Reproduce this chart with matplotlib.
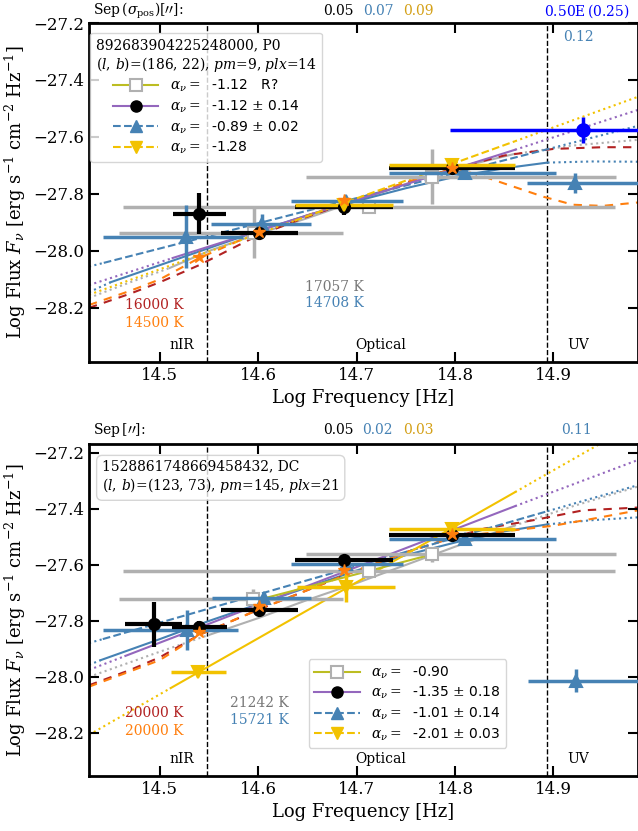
import matplotlib.pyplot as plt
from matplotlib.lines import Line2D

plt.rcParams['font.family'] = 'DejaVu Serif'
plt.rcParams['mathtext.fontset'] = 'dejavuserif'

# colours
C_GRAY = '#b0b0b0'
C_SB = '#4682b4'
C_GOLD = '#f2c200'
C_ORG = '#ff7f0e'
C_RED = '#b22222'
C_PUR = '#9467bd'
C_OLV = '#bcbd22'
C_BLUE = '#0000ff'

# band boundaries (log Hz)
vlines_x = [14.548, 14.894]

# ---------------- TOP PANEL DATA ----------------
top_gray_x = [14.596, 14.713, 14.777]
top_gray_y = [-27.937, -27.846, -27.739]
top_gray_xlo = [0.138, 0.250, 0.128]
top_gray_xhi = [0.090, 0.250, 0.187]
top_gray_yerr = [0.088, 0.0, 0.095]

top_sb_x = [14.527, 14.604, 14.689, 14.810, 14.922]
top_sb_y = [-27.950, -27.905, -27.825, -27.727, -27.762]
top_sb_xlo = [0.085, 0.052, 0.056, 0.077, 0.049]
top_sb_xhi = [0.058, 0.050, 0.058, 0.093, 0.080]
top_sb_yerr = [0.110, 0.035, 0.015, 0.015, 0.035]

top_blue_x = [14.930]
top_blue_y = [-27.575]
top_blue_xerr = [0.135]
top_blue_yerr = [0.045]

top_gold_x = [14.687, 14.797]
top_gold_y = [-27.839, -27.698]
top_gold_xerr = [0.050, 0.064]
top_gold_yerr = [0.010, 0.010]

top_blk_x = [14.540, 14.601, 14.687, 14.797]
top_blk_y = [-27.870, -27.937, -27.846, -27.710]
top_blk_xerr = [0.027, 0.039, 0.050, 0.064]
top_blk_yerr = [0.072, 0.015, 0.028, 0.015]

top_org_x = [14.540, 14.601, 14.687, 14.797]
top_org_y = [-28.022, -27.933, -27.822, -27.708]

# fit lines: [left edge, start of fit range, end of fit range, right edge]
top_pur_fx = [14.428, 14.513, 14.861, 14.986]
top_pur_fy = [-28.120, -28.025, -27.645, -27.505]
top_gold_fx = [14.428, 14.637, 14.861, 14.986]
top_gold_fy = [-28.154, -27.894, -27.615, -27.459]
top_sb_fx = [14.428, 14.443, 14.894, 14.986]
top_sb_fy = [-28.055, -28.042, -27.643, -27.561]

# blackbody curves (solid inside range, dotted outside)
top_graybb_x = [14.428, 14.47, 14.51, 14.55, 14.60, 14.65, 14.70, 14.75, 14.80, 14.86, 14.92, 14.986]
top_graybb_y = [-28.165, -28.11, -28.06, -28.00, -27.94, -27.885, -27.825, -27.765, -27.71, -27.66, -27.63, -27.61]
top_graybb_rng = (14.51, 14.86)
top_sbbb_x = [14.428, 14.45, 14.50, 14.55, 14.60, 14.65, 14.70, 14.75, 14.80, 14.85, 14.894, 14.94, 14.986]
top_sbbb_y = [-28.145, -28.11, -28.05, -27.99, -27.93, -27.875, -27.825, -27.78, -27.74, -27.71, -27.69, -27.686, -27.687]
top_sbbb_rng = (14.45, 14.894)

# model spectra
top_red_x = [14.428, 14.47, 14.50, 14.54, 14.60, 14.65, 14.70, 14.75, 14.80, 14.85, 14.90, 14.95, 14.986]
top_red_y = [-28.20, -28.15, -28.11, -28.05, -27.945, -27.88, -27.82, -27.76, -27.71, -27.665, -27.642, -27.636, -27.636]
top_org_mx = [14.428, 14.47, 14.50, 14.54, 14.60, 14.65, 14.70, 14.75, 14.80, 14.83, 14.86, 14.89, 14.92, 14.95, 14.986]
top_org_my = [-28.19, -28.14, -28.10, -28.025, -27.935, -27.875, -27.818, -27.76, -27.71, -27.74, -27.775, -27.81, -27.838, -27.842, -27.83]

# ---------------- BOTTOM PANEL DATA ----------------
bot_gray_x = [14.595, 14.713, 14.777]
bot_gray_y = [-27.721, -27.621, -27.562]
bot_gray_xlo = [0.137, 0.250, 0.128]
bot_gray_xhi = [0.091, 0.250, 0.187]
bot_gray_yerr = [0.035, 0.010, 0.027]

bot_sb_x = [14.528, 14.606, 14.689, 14.810, 14.923]
bot_sb_y = [-27.833, -27.718, -27.598, -27.506, -28.013]
bot_sb_xlo = [0.086, 0.053, 0.056, 0.077, 0.049]
bot_sb_xhi = [0.051, 0.048, 0.058, 0.093, 0.080]
bot_sb_yerr = [0.072, 0.020, 0.015, 0.010, 0.040]

bot_gold_x = [14.539, 14.689, 14.797]
bot_gold_y = [-27.982, -27.680, -27.470]
bot_gold_xerr = [0.028, 0.050, 0.064]
bot_gold_yerr = [0.010, 0.053, 0.010]

bot_blk_x = [14.494, 14.540, 14.601, 14.687, 14.797]
bot_blk_y = [-27.812, -27.822, -27.760, -27.584, -27.494]
bot_blk_xerr = [0.029, 0.028, 0.039, 0.050, 0.064]
bot_blk_yerr = [0.080, 0.020, 0.010, 0.020, 0.010]

bot_org_x = [14.540, 14.601, 14.687, 14.797]
bot_org_y = [-27.840, -27.745, -27.617, -27.490]

bot_pur_fx = [14.428, 14.465, 14.861, 14.986]
bot_pur_fy = [-27.975, -27.925, -27.390, -27.225]
bot_gold_fx = [14.428, 14.511, 14.861, 14.986]
bot_gold_fy = [-28.207, -28.040, -27.340, -27.090]
bot_sb_fx = [14.428, 14.442, 14.894, 14.986]
bot_sb_fy = [-27.879, -27.865, -27.408, -27.315]
bot_olv_fx = [14.601, 14.777]
bot_olv_fy = [-27.724, -27.562]

bot_graybb_x = [14.428, 14.50, 14.55, 14.60, 14.65, 14.70, 14.75, 14.80, 14.86, 14.92, 14.986]
bot_graybb_y = [-28.00, -27.91, -27.85, -27.79, -27.725, -27.665, -27.60, -27.535, -27.46, -27.39, -27.32]
bot_graybb_rng = (14.51, 14.86)
bot_sbbb_x = [14.428, 14.44, 14.50, 14.55, 14.60, 14.65, 14.70, 14.75, 14.80, 14.85, 14.894, 14.94, 14.986]
bot_sbbb_y = [-27.957, -27.94, -27.865, -27.80, -27.74, -27.68, -27.62, -27.565, -27.52, -27.48, -27.455, -27.44, -27.43]
bot_sbbb_rng = (14.44, 14.894)

bot_red_x = [14.428, 14.47, 14.50, 14.54, 14.60, 14.65, 14.70, 14.75, 14.80, 14.83, 14.88, 14.93, 14.986]
bot_red_y = [-28.03, -27.975, -27.93, -27.85, -27.76, -27.69, -27.62, -27.555, -27.50, -27.47, -27.44, -27.405, -27.395]
bot_org_mx = [14.428, 14.47, 14.50, 14.54, 14.60, 14.65, 14.70, 14.75, 14.80, 14.85, 14.90, 14.94, 14.986]
bot_org_my = [-28.035, -27.98, -27.94, -27.85, -27.76, -27.69, -27.62, -27.555, -27.50, -27.48, -27.46, -27.435, -27.405]


def split_curve(ax, xs, ys, rng, color, ls_in='-', lw=1.5):
    '''solid inside rng, dotted outside'''
    inside = [(x, y) for x, y in zip(xs, ys) if rng[0] <= x <= rng[1]]
    left = [(x, y) for x, y in zip(xs, ys) if x <= rng[0]] + inside[:1]
    right = inside[-1:] + [(x, y) for x, y in zip(xs, ys) if x >= rng[1]]
    for seg, ls in ((left, ':'), (inside, ls_in), (right, ':')):
        if len(seg) > 1:
            ax.plot([p[0] for p in seg], [p[1] for p in seg], color=color, ls=ls, lw=lw, zorder=1)


def fit_line(ax, fx, fy, color, ls_in='-'):
    ax.plot(fx[:2], fy[:2], color=color, ls=':', lw=1.5, zorder=1)
    ax.plot(fx[1:3], fy[1:3], color=color, ls=ls_in, lw=1.5, zorder=1)
    ax.plot(fx[2:], fy[2:], color=color, ls=':', lw=1.5, zorder=1)


def style_axes(ax, ylim):
    ax.set_xlim(14.428, 14.986)
    ax.set_ylim(*ylim)
    ax.set_xticks([14.5, 14.6, 14.7, 14.8, 14.9])
    ax.set_yticks([-28.2, -28.0, -27.8, -27.6, -27.4, -27.2])
    ax.tick_params(direction='in', length=7, width=1.5, top=True, right=True, labelsize=12)
    for s in ax.spines.values():
        s.set_linewidth(2)
    ax.set_xlabel('Log Frequency [Hz]', fontsize=13)
    ax.set_ylabel(r'Log Flux $F_\nu$ [erg s$^{-1}$ cm$^{-2}$ Hz$^{-1}$]', fontsize=13)
    for vx in vlines_x:
        ax.axvline(vx, color='black', ls='--', lw=1, zorder=0)
    tr = ax.get_xaxis_transform()
    ax.text(14.522, 0.05, 'nIR', transform=tr, ha='center', va='center', fontsize=10)
    ax.text(14.724, 0.05, 'Optical', transform=tr, ha='center', va='center', fontsize=10)
    ax.text(14.925, 0.05, 'UV', transform=tr, ha='center', va='center', fontsize=10)


def eb(ax, x, y, xerr, yerr, color, marker, ms, z, mfc=None, lw=2.5):
    ax.errorbar(x, y, xerr=xerr, yerr=yerr, fmt=marker, color=color, ms=ms,
                mfc=mfc if mfc else color, mec=color, mew=1.5, elinewidth=lw, capsize=0, zorder=z)


fig = plt.figure(figsize=(6.38, 8.31), dpi=100)
ax1 = fig.add_axes([0.1395, 0.5644, 0.8605, 0.4079])
ax2 = fig.add_axes([0.1395, 0.0662, 0.8605, 0.3995])

# ---------------- TOP ----------------
ax = ax1
split_curve(ax, top_graybb_x, top_graybb_y, top_graybb_rng, C_GRAY)
split_curve(ax, top_sbbb_x, top_sbbb_y, top_sbbb_rng, C_SB)
ax.plot(top_red_x, top_red_y, color=C_RED, dashes=(4, 3.5), lw=1.5, zorder=1)
ax.plot(top_org_mx, top_org_my, color=C_ORG, dashes=(4, 3.5), lw=1.5, zorder=1)
fit_line(ax, top_sb_fx, top_sb_fy, C_SB, '--')
fit_line(ax, top_pur_fx, top_pur_fy, C_PUR, '-')
fit_line(ax, top_gold_fx, top_gold_fy, C_GOLD, '--')

eb(ax, top_gray_x, top_gray_y, [top_gray_xlo, top_gray_xhi], top_gray_yerr, C_GRAY, 's', 8, 2, mfc='white')
eb(ax, top_sb_x, top_sb_y, [top_sb_xlo, top_sb_xhi], top_sb_yerr, C_SB, '^', 9, 3)
eb(ax, top_blue_x, top_blue_y, top_blue_xerr, top_blue_yerr, C_BLUE, 'o', 9, 3)
eb(ax, top_blk_x, top_blk_y, top_blk_xerr, top_blk_yerr, 'black', 'o', 8, 4, lw=3)
eb(ax, top_gold_x, top_gold_y, top_gold_xerr, top_gold_yerr, C_GOLD, 'v', 9, 4)
ax.plot(top_org_x, top_org_y, '*', color=C_ORG, ms=9, zorder=6)

style_axes(ax, (-28.39, -27.2))

handles = [
    Line2D([], [], color=C_OLV, lw=1.5, marker='s', ms=8, mfc='white', mec=C_GRAY, mew=1.5),
    Line2D([], [], color=C_PUR, lw=1.5, marker='o', ms=8, mfc='black', mec='black'),
    Line2D([], [], color=C_SB, lw=1.5, ls='--', marker='^', ms=9, mfc=C_SB, mec=C_SB),
    Line2D([], [], color=C_GOLD, lw=1.5, ls='--', marker='v', ms=9, mfc=C_GOLD, mec=C_GOLD),
]
labels = [r'$\alpha_\nu =$  -1.12   R?', r'$\alpha_\nu =$  -1.12 $\pm$ 0.14',
          r'$\alpha_\nu =$  -0.89 $\pm$ 0.02', r'$\alpha_\nu =$  -1.28']
leg = ax.legend(handles, labels, loc='upper left', bbox_to_anchor=(0.002, 0.972), borderaxespad=0,
                title='892683904225248000, P0\n$(l,\\,b)$=(186, 22), $pm$=9, $plx$=14',
                handlelength=3.3, title_fontsize=10, labelspacing=0.3,
                prop={'family': 'DejaVu Sans', 'size': 10})
leg.get_title().set_multialignment('left')

ax.text(0.065, 0.168, '16000 K', transform=ax.transAxes, color=C_RED, fontsize=10, va='center')
ax.text(0.065, 0.115, '14500 K', transform=ax.transAxes, color=C_ORG, fontsize=10, va='center')
ax.text(0.394, 0.221, '17057 K', transform=ax.transAxes, color='#777777', fontsize=10, va='center')
ax.text(0.394, 0.174, '14708 K', transform=ax.transAxes, color=C_SB, fontsize=10, va='center')
ax.text(578 / 638, 1 - 37 / 831, '0.12', transform=fig.transFigure, color=C_SB, fontsize=10,
        ha='center', va='center')

fig.text(93 / 638, 1 - 11 / 831, r'Sep$\,(\sigma_{\rm pos})[\prime\prime]$:', fontsize=10, va='center')
fig.text(323 / 638, 1 - 11 / 831, '0.05', fontsize=10, va='center')
fig.text(363 / 638, 1 - 11 / 831, '0.07', fontsize=10, va='center', color=C_SB)
fig.text(403 / 638, 1 - 11 / 831, '0.09', fontsize=10, va='center', color='#d4a017')
fig.text(544 / 638, 1 - 11 / 831, '0.50E$\\,$(0.25)', fontsize=10, va='center', color=C_BLUE)

# ---------------- BOTTOM ----------------
ax = ax2
split_curve(ax, bot_graybb_x, bot_graybb_y, bot_graybb_rng, C_GRAY)
split_curve(ax, bot_sbbb_x, bot_sbbb_y, bot_sbbb_rng, C_SB)
ax.plot(bot_red_x, bot_red_y, color=C_RED, dashes=(4, 3.5), lw=1.5, zorder=1)
ax.plot(bot_org_mx, bot_org_my, color=C_ORG, dashes=(4, 3.5), lw=1.5, zorder=1)
fit_line(ax, bot_sb_fx, bot_sb_fy, C_SB, '--')
fit_line(ax, bot_pur_fx, bot_pur_fy, C_PUR, '-')
fit_line(ax, bot_gold_fx, bot_gold_fy, C_GOLD, '-')
ax.plot(bot_olv_fx, bot_olv_fy, color=C_OLV, lw=1.5, zorder=1)

eb(ax, bot_gray_x, bot_gray_y, [bot_gray_xlo, bot_gray_xhi], bot_gray_yerr, C_GRAY, 's', 8, 2, mfc='white')
eb(ax, bot_sb_x, bot_sb_y, [bot_sb_xlo, bot_sb_xhi], bot_sb_yerr, C_SB, '^', 9, 3)
eb(ax, bot_blk_x, bot_blk_y, bot_blk_xerr, bot_blk_yerr, 'black', 'o', 8, 4, lw=3)
eb(ax, bot_gold_x, bot_gold_y, bot_gold_xerr, bot_gold_yerr, C_GOLD, 'v', 9, 4)
ax.plot(bot_org_x, bot_org_y, '*', color=C_ORG, ms=9, zorder=6)

style_axes(ax, (-28.354, -27.168))

labels = [r'$\alpha_\nu =$  -0.90', r'$\alpha_\nu =$  -1.35 $\pm$ 0.18',
          r'$\alpha_\nu =$  -1.01 $\pm$ 0.14', r'$\alpha_\nu =$  -2.01 $\pm$ 0.03']
leg = ax.legend(handles, labels, loc='lower left', bbox_to_anchor=(0.40, 0.084), borderaxespad=0,
                handlelength=3.3, labelspacing=0.3, prop={'family': 'DejaVu Sans', 'size': 10})

ax.text(0.024, 0.955, '1528861748669458432, DC\n$(l,\\,b)$=(123, 73), $pm$=145, $plx$=21',
        transform=ax.transAxes, fontsize=10, va='top', ha='left',
        bbox=dict(boxstyle='round,pad=0.4', fc='white', ec='#cccccc', alpha=0.8))

ax.text(0.066, 0.19, '20000 K', transform=ax.transAxes, color=C_RED, fontsize=10, va='center')
ax.text(0.066, 0.135, '20000 K', transform=ax.transAxes, color=C_ORG, fontsize=10, va='center')
ax.text(0.257, 0.22, '21242 K', transform=ax.transAxes, color='#777777', fontsize=10, va='center')
ax.text(0.257, 0.169, '15721 K', transform=ax.transAxes, color=C_SB, fontsize=10, va='center')

fig.text(93 / 638, 1 - 430 / 831, r'Sep$\,[\prime\prime]$:', fontsize=10, va='center')
fig.text(323 / 638, 1 - 430 / 831, '0.05', fontsize=10, va='center')
fig.text(362 / 638, 1 - 430 / 831, '0.02', fontsize=10, va='center', color=C_SB)
fig.text(403 / 638, 1 - 430 / 831, '0.03', fontsize=10, va='center', color='#d4a017')
fig.text(561 / 638, 1 - 430 / 831, '0.11', fontsize=10, va='center', color=C_SB)

fig.savefig('out.png', dpi=100)
